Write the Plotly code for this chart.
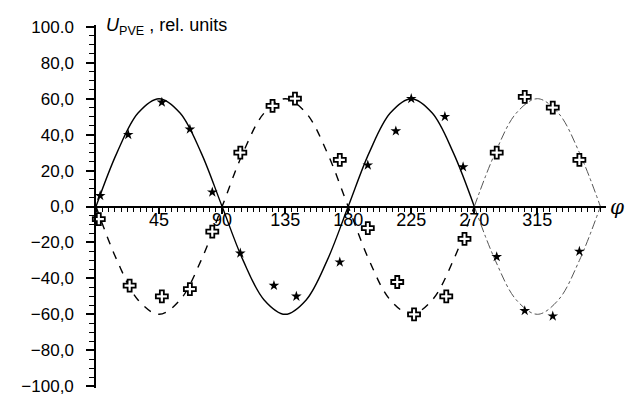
import plotly.graph_objects as go

# Curvas teóricas (passo de 15 graus)
phi_curve = [0, 15, 30, 45, 60, 75, 90, 105, 120, 135, 150, 165, 180,
             195, 210, 225, 240, 255, 270, 285, 300, 315, 330, 345, 360]
u_solid = [0, 30, 52, 60, 52, 30, 0, -30, -52, -60, -52, -30, 0,
           30, 52, 60, 52, 30, 0, -30, -52, -60, -52, -30, 0]
u_dashed = [0, -30, -52, -60, -52, -30, 0, 30, 52, 60, 52, 30, 0,
            -30, -52, -60, -52, -30, 0, 30, 52, 60, 52, 30, 0]

# Pontos medidos
star_phi = [3, 23, 47, 67, 83, 103, 127, 143, 174, 194, 214, 225, 249, 262, 286, 306, 326, 345]
star_u = [6, 40, 58, 43, 8, -26, -44, -50, -31, 23, 42, 60, 50, 22, -28, -58, -61, -25]
cross_phi = [2, 24, 47, 67, 83, 103, 126, 142, 174, 194, 215, 227, 250, 263, 286, 306, 326, 345]
cross_u = [-7, -44, -50, -46, -14, 30, 56, 60, 26, -12, -42, -60, -50, -18, 30, 61, 55, 26]

x_ticks = [45, 90, 135, 180, 225, 270, 315]
y_ticks = [100, 80, 60, 40, 20, 0, -20, -40, -60, -80, -100]
y_labels = ["100.0", "80,0", "60,0", "40,0", "20,0", "0,0",
            "−20,0", "−40,0", "−60,0", "−80,0", "−100,0"]

split = phi_curve.index(270)

fig = go.Figure()
fig.add_trace(go.Scatter(x=phi_curve[:split + 1], y=u_solid[:split + 1], mode='lines',
                         line=dict(color='black', width=1.4, shape='spline')))
fig.add_trace(go.Scatter(x=phi_curve[split:], y=u_solid[split:], mode='lines',
                         line=dict(color='#555555', width=1, dash='dashdot', shape='spline')))
fig.add_trace(go.Scatter(x=phi_curve[:split + 1], y=u_dashed[:split + 1], mode='lines',
                         line=dict(color='black', width=1.4, dash='8px,8px', shape='spline')))
fig.add_trace(go.Scatter(x=phi_curve[split:], y=u_dashed[split:], mode='lines',
                         line=dict(color='#555555', width=1, dash='dashdot', shape='spline')))
fig.add_trace(go.Scatter(x=star_phi, y=star_u, mode='markers', cliponaxis=False,
                         marker=dict(symbol='star', size=8, color='black')))
fig.add_trace(go.Scatter(x=cross_phi, y=cross_u, mode='markers', cliponaxis=False,
                         marker=dict(symbol='cross', size=10, color='white',
                                     line=dict(width=1.8, color='black'))))

font = dict(family='Liberation Sans, Arial, sans-serif', size=16, color='black')

# la page a 8 px de marge : figure un peu plus petite que la fenêtre
fig.update_layout(
    width=630, height=398,
    margin=dict(l=88, r=32, t=10, b=12),
    paper_bgcolor='white', plot_bgcolor='white',
    showlegend=False,
    font=font,
    xaxis=dict(range=[0, 364], anchor='free', position=0.5,
               showline=True, linecolor='black', linewidth=1.5,
               showgrid=False, zeroline=False,
               tickmode='array', tickvals=x_ticks,
               ticks='outside', ticklen=7, tickwidth=1.5, tickcolor='black',
               ticklabelstandoff=-10,
               minor=dict(dtick=4.5, tick0=0, ticks='outside', ticklen=5,
                          tickwidth=1, tickcolor='black'),
               tickfont=dict(size=18)),
    yaxis=dict(range=[-101, 101], showline=True, linecolor='black', linewidth=1.5,
               showgrid=False, zeroline=False,
               tickmode='array', tickvals=y_ticks, ticktext=y_labels,
               ticks='outside', ticklen=8, tickwidth=1.5, tickcolor='black',
               ticklabelstandoff=9,
               minor=dict(dtick=5, tick0=0, ticks='outside', ticklen=5,
                          tickwidth=1, tickcolor='black'),
               tickfont=dict(size=17)),
)

fig.add_annotation(text="<i>U</i><sub>PVE</sub> , rel. units", xref='paper', yref='paper',
                   x=0, y=1, xanchor='left', yanchor='middle', xshift=8, yshift=-1,
                   showarrow=False, font=dict(size=18))
fig.add_annotation(text="<i>φ</i>", xref='paper', yref='y', x=1, y=0,
                   xanchor='left', yanchor='middle', xshift=2,
                   showarrow=False, font=dict(family='DejaVu Serif, serif', size=20))

fig.write_html("out.html")
